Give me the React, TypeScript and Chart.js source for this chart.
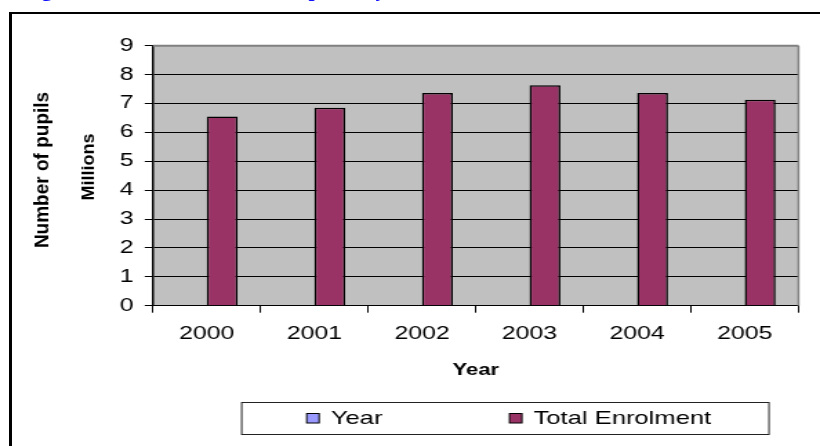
import React, { useEffect, useRef } from 'react';
import { Chart, registerables } from 'chart.js';

Chart.register(...registerables);

// ---------- data ----------
const categories = ['2000', '2001', '2002', '2003', '2004', '2005'];
const yearSeries: (number | null)[] = [null, null, null, null, null, null];
const totalEnrolment = [6.55, 6.85, 7.36, 7.63, 7.36, 7.13];
const seriesLabels = ['Year', 'Total Enrolment'];
const yAxisTitles = ['Number of pupils', 'Millions'];
const xAxisTitle = 'Year';
const figureTitle = 'Figure 2.1: Total enrolment in primary schools 2000-2005';
const yMin = 0;
const yMax = 9;
const yStep = 1;

// ---------- layout / style ----------
const W = 594;
const H = 446;
const SX = 820 / W; // horizontal stretch of the whole picture
const FONT = "'Liberation Sans', Arial, Helvetica, sans-serif";
const PLOT_LEFT = 153 / SX;
const PLOT_RIGHT = 798.5 / SX;
const PLOT_TOP = 45.7;
const PLOT_BOTTOM = 305.7;

const plotFramePlugin = {
  id: 'plotFrame',
  beforeDraw(chart: any) {
    const { ctx, chartArea: a } = chart;
    ctx.save();
    ctx.fillStyle = '#C0C0C0';
    ctx.fillRect(a.left, a.top, a.right - a.left, a.bottom - a.top);
    ctx.restore();
  },
  afterDraw(chart: any) {
    const { ctx, chartArea: a } = chart;
    ctx.save();
    ctx.strokeStyle = '#808080';
    ctx.lineWidth = 2;
    ctx.beginPath();
    ctx.moveTo(a.left, a.top);
    ctx.lineTo(a.right, a.top);
    ctx.stroke();
    ctx.lineWidth = 1.5;
    ctx.beginPath();
    ctx.moveTo(a.right, a.top);
    ctx.lineTo(a.right, a.bottom);
    ctx.stroke();
    ctx.restore();
  },
};

const yTitlesPlugin = {
  id: 'yTitles',
  afterDraw(chart: any) {
    const { ctx } = chart;
    const spots = [
      [30.8, 170, 19],
      [64.1, 167, 18],
    ];
    ctx.save();
    ctx.fillStyle = '#000';
    ctx.textAlign = 'center';
    ctx.textBaseline = 'middle';
    yAxisTitles.forEach((t, i) => {
      ctx.save();
      ctx.font = `bold ${spots[i][2]}px ${FONT}`;
      ctx.translate(spots[i][0], spots[i][1]);
      ctx.scale(1 / SX, 1);
      ctx.rotate(-Math.PI / 2);
      ctx.fillText(t, 0, 0);
      ctx.restore();
    });
    ctx.restore();
  },
};

const boxLegendPlugin = {
  id: 'boxLegend',
  afterDraw(chart: any) {
    const { ctx } = chart;
    const left = 241.7 / SX;
    const right = 769 / SX;
    const top = 402.5;
    const bottom = 434.5;
    const itemX = [306.7 / SX, 509.5 / SX];
    ctx.save();
    ctx.fillStyle = '#fff';
    ctx.fillRect(left, top, right - left, bottom - top);
    ctx.strokeStyle = '#222';
    ctx.lineWidth = 1;
    ctx.strokeRect(left, top, right - left, bottom - top);
    ctx.font = `18.5px ${FONT}`;
    ctx.textBaseline = 'alphabetic';
    ctx.textAlign = 'left';
    chart.data.datasets.forEach((ds: any, i: number) => {
      const x = itemX[i];
      ctx.fillStyle = ds.backgroundColor;
      ctx.fillRect(x, 413, 9, 10);
      ctx.strokeStyle = '#000';
      ctx.lineWidth = 1;
      ctx.strokeRect(x, 413.5, 9, 9.5);
      ctx.fillStyle = '#000';
      ctx.fillText(ds.label, x + 17.5, 423.5);
    });
    ctx.restore();
  },
};

export default function App() {
  const ref = useRef<HTMLCanvasElement | null>(null);

  useEffect(() => {
    if (!ref.current) return;
    const chart = new Chart(ref.current, {
      type: 'bar',
      data: {
        labels: categories,
        datasets: [
          {
            label: seriesLabels[0],
            data: yearSeries,
            backgroundColor: '#9999FF',
            borderColor: '#000',
            borderWidth: 1.5,
            categoryPercentage: 0.574,
            barPercentage: 1,
          },
          {
            label: seriesLabels[1],
            data: totalEnrolment,
            backgroundColor: '#993366',
            borderColor: '#000',
            borderWidth: 1.5,
            categoryPercentage: 0.574,
            barPercentage: 1,
          },
        ],
      },
      options: {
        responsive: false,
        animation: false,
        layout: {
          padding: { left: 0, top: PLOT_TOP, right: W - PLOT_RIGHT, bottom: 0 },
        },
        plugins: {
          legend: { display: false },
          tooltip: { enabled: false },
        },
        scales: {
          x: {
            type: 'category',
            offset: true,
            grid: {
              display: true,
              drawOnChartArea: false,
              drawTicks: true,
              tickLength: 7,
              color: '#000',
              offset: true,
              lineWidth: 1,
            },
            border: { display: true, color: '#000', width: 1 },
            ticks: {
              color: '#000',
              font: { family: FONT, size: 18 },
              padding: 11,
              maxRotation: 0,
              autoSkip: false,
            },
            title: {
              display: true,
              text: xAxisTitle,
              color: '#000',
              font: { family: FONT, size: 16, weight: 'bold' },
              padding: { top: 0, bottom: 66 },
            },
            afterFit: (s: any) => {
              s.height = H - PLOT_BOTTOM;
            },
          },
          y: {
            min: yMin,
            max: yMax,
            ticks: {
              stepSize: yStep,
              color: '#000',
              font: { family: FONT, size: 18 },
              padding: 8,
            },
            grid: {
              color: (c: any) => (c.tick && c.tick.value === yMax ? 'rgba(0,0,0,0)' : '#000'),
              tickColor: '#000',
              tickLength: 6,
              lineWidth: 1,
            },
            border: { display: true, color: '#000', width: 1.5 },
            afterFit: (s: any) => {
              s.width = PLOT_LEFT;
            },
          },
        },
      } as any,
      plugins: [plotFramePlugin, yTitlesPlugin, boxLegendPlugin],
    });
    return () => chart.destroy();
  }, []);

  return (
    <>
      <div
        style={{
          position: 'fixed',
          left: 0,
          top: 0,
          width: W,
          height: H,
          transform: `scaleX(${SX})`,
          transformOrigin: '0 0',
        }}
      >
        <canvas ref={ref} width={W} height={H} style={{ display: 'block' }} />
      </div>
      <div
        style={{
          position: 'fixed',
          left: 9,
          top: 12,
          width: 900,
          height: 600,
          borderTop: '2px solid #000',
          borderLeft: '3px solid #000',
          boxSizing: 'border-box',
        }}
      />
      <div
        style={{
          position: 'fixed',
          left: 22,
          top: -22,
          font: "bold 22px 'Liberation Serif', 'Times New Roman', serif",
          lineHeight: '22px',
          color: '#1010FF',
          whiteSpace: 'nowrap',
        }}
      >
        {figureTitle}
      </div>
    </>
  );
}
